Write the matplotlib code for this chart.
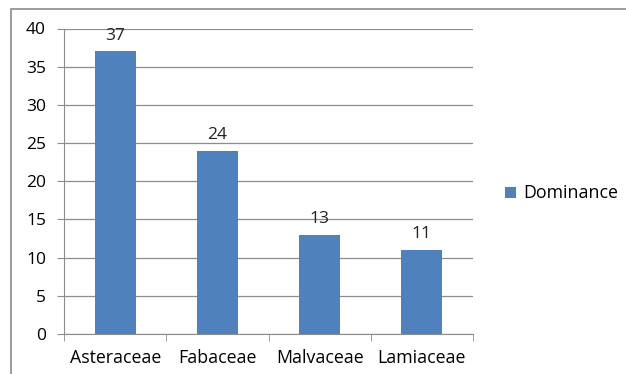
import matplotlib.pyplot as plt
from matplotlib.patches import Rectangle

families = ["Asteraceae", "Fabaceae", "Malvaceae", "Lamiaceae"]
dominance = [37, 24, 13, 11]
yticks = [0, 5, 10, 15, 20, 25, 30, 35, 40]

plt.rcParams['font.family'] = ['Open Sans', 'DejaVu Sans']

W, H = 626, 374
fig = plt.figure(figsize=(W / 100, H / 100), dpi=100)

# outer chart frame (cut off at right and bottom like the screenshot)
fig.patches.append(Rectangle((11 / W, -0.1), 1.2, 1 - 9 / H + 0.1, transform=fig.transFigure,
                             fill=False, edgecolor="#8c8c8c", linewidth=1.2))

ax = fig.add_axes([64 / W, 1 - 334 / H, (473 - 64) / W, (334 - 28.5) / H])
x = list(range(len(families)))
ax.bar(x, dominance, width=0.4, color="#4f81bd", zorder=3)
for xi, v in zip(x, dominance):
    ax.text(xi, v + 1.0, str(v), ha="center", va="bottom", fontsize=12.5, color="#222222")

ax.set_xlim(-0.5, len(families) - 0.5)
ax.set_ylim(0, 40)
ax.set_yticks(yticks)
ax.yaxis.grid(True, color="#8c8c8c", linewidth=0.9, zorder=0)
ax.set_xticks(x)
ax.set_xticklabels(families)
ax.set_xticks([i - 0.5 for i in range(len(families) + 1)], minor=True)
ax.tick_params(axis="x", which="major", length=0, pad=11, labelsize=12.8)
ax.tick_params(axis="x", which="minor", length=5, color="#8c8c8c")
ax.tick_params(axis="y", length=5, color="#8c8c8c", labelsize=12.5, pad=8)
for s in ["top", "right"]:
    ax.spines[s].set_visible(False)
for s in ["left", "bottom"]:
    ax.spines[s].set_color("#8c8c8c")

ax.legend(["Dominance"], loc="center left", bbox_to_anchor=(1.04, 0.46), frameon=False,
          handlelength=0.6, handleheight=0.6, handletextpad=0.4, fontsize=12.8)

fig.savefig("out.png", dpi=100)
